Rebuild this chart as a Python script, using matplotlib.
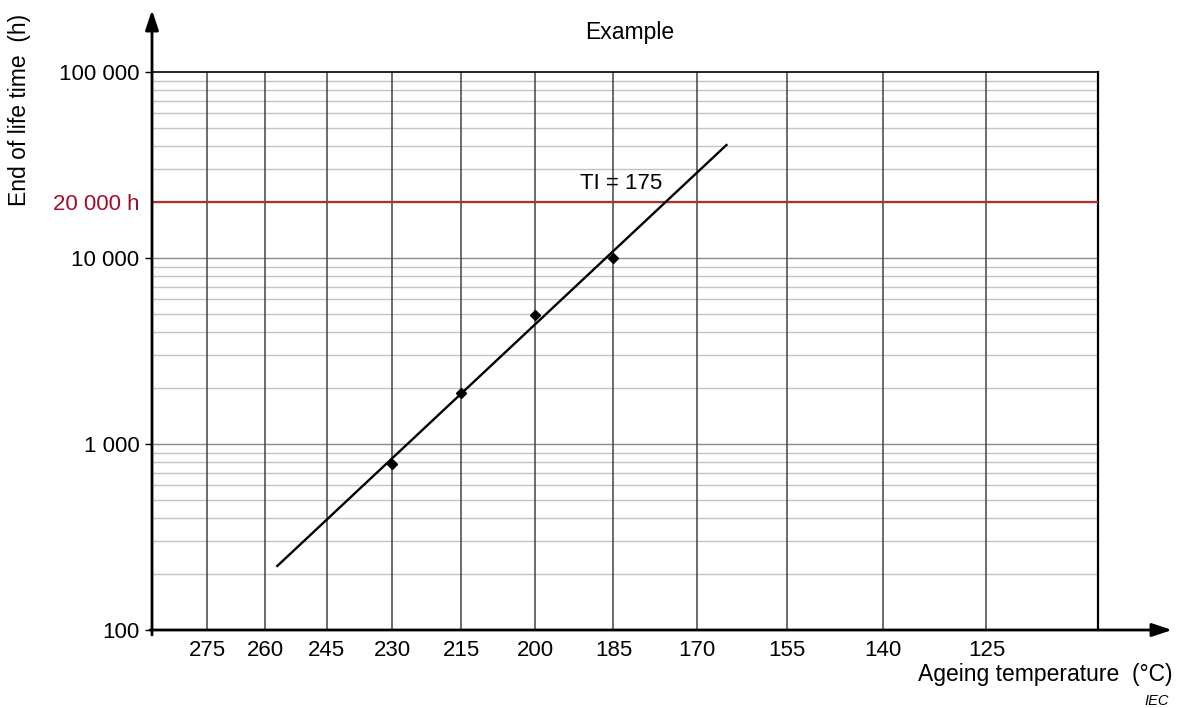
import numpy as np
import matplotlib.pyplot as plt
from matplotlib.ticker import FixedLocator, NullFormatter

plt.rcParams['font.family'] = ['Liberation Sans', 'DejaVu Sans']

# data
temp_ticks = [275, 260, 245, 230, 215, 200, 185, 170, 155, 140, 125]
grid_temps = [290] + temp_ticks + [110]
point_temps = [230, 215, 200, 185]
point_hours = [780, 1880, 4940, 10000]
fit_temps = [257, 165]
fit_hours = [221, 40500]
ti_hours = 20000
y_major = [100, 1000, 10000, 100000]
y_labels = ["100", "1 000", "10 000", "100 000"]


# Arrhenius scale: reciprocal absolute temperature
def fwd(t):
    return 1.0 / (np.asarray(t, dtype=float) + 273.0)


def inv(u):
    return 1.0 / np.asarray(u, dtype=float) - 273.0


fig = plt.figure(figsize=(11.82, 7.08), dpi=100)
ax = fig.add_axes([152 / 1182, 1 - 630 / 708, 946 / 1182, 558 / 708])
ax.set_xscale('function', functions=(fwd, inv))
ax.set_yscale('log')
ax.set_xlim(110, 290)
ax.set_ylim(100, 100000)

# grid
minor = [m * 10 ** e for e in range(2, 5) for m in range(2, 10)]
for v in minor:
    ax.axhline(v, color='#c4c4c4', lw=1.0, zorder=1)
for v in y_major[1:-1]:
    ax.axhline(v, color='#8a8a8a', lw=1.0, zorder=1)
for t in grid_temps[1:-1]:
    ax.axvline(t, color='#444444', lw=1.1, zorder=2)
ax.axhline(ti_hours, color='#b03030', lw=1.6, zorder=3)

ax.plot(fit_temps, fit_hours, color='black', lw=1.7, zorder=4)
ax.plot(point_temps, point_hours, 'D', color='black', ms=5, zorder=5)
ax.annotate('TI = 175', xy=(183.5, 25000), ha='center', va='center', fontsize=16)

# spines
ax.spines['left'].set_visible(False)
ax.spines['bottom'].set_visible(False)
ax.spines['top'].set_linewidth(1.2)
ax.spines['right'].set_linewidth(1.6)

# ticks
ax.xaxis.set_major_locator(FixedLocator(temp_ticks))
ax.set_xticklabels([str(t) for t in temp_ticks])
ax.xaxis.set_minor_locator(FixedLocator([]))
ax.tick_params(axis='x', length=0, pad=7, labelsize=16)
ax.yaxis.set_major_locator(FixedLocator(y_major + [ti_hours]))
ax.set_yticklabels(y_labels + ["20 000 h"])
ax.yaxis.set_minor_locator(FixedLocator([]))
ax.yaxis.set_minor_formatter(NullFormatter())
ax.tick_params(axis='y', length=5, width=1, pad=4, labelsize=16, direction='out')
ax.get_yticklabels()[-1].set_color('#a0102a')
ax.yaxis.get_major_ticks()[-1].tick1line.set_visible(False)

# axis arrows
ax.annotate('', xy=(1172 / 1182, 1 - 630 / 708), xytext=(150 / 1182, 1 - 630 / 708),
            xycoords='figure fraction', textcoords='figure fraction',
            arrowprops=dict(arrowstyle='-|>,head_length=1.2,head_width=0.4',
                            color='black', lw=2, shrinkA=0, shrinkB=0))
ax.annotate('', xy=(152 / 1182, 1 - 10 / 708), xytext=(152 / 1182, 1 - 635 / 708),
            xycoords='figure fraction', textcoords='figure fraction',
            arrowprops=dict(arrowstyle='-|>,head_length=1.2,head_width=0.4',
                            color='black', lw=2, shrinkA=0, shrinkB=0))

fig.text(630 / 1182, 1 - 33 / 708, 'Example', ha='center', va='center', fontsize=16.5)
fig.text(20 / 1182, 1 - 110 / 708, 'End of life time  (h)', rotation=90,
         ha='center', va='center', fontsize=16.5)
fig.text(1173 / 1182, 1 - 675 / 708, 'Ageing temperature  (°C)', ha='right',
         va='center', fontsize=16.5)
fig.text(1169 / 1182, 1 - 701 / 708, 'IEC', ha='right', va='center',
         fontsize=10.5, style='italic')

fig.savefig('out.png', dpi=100)
